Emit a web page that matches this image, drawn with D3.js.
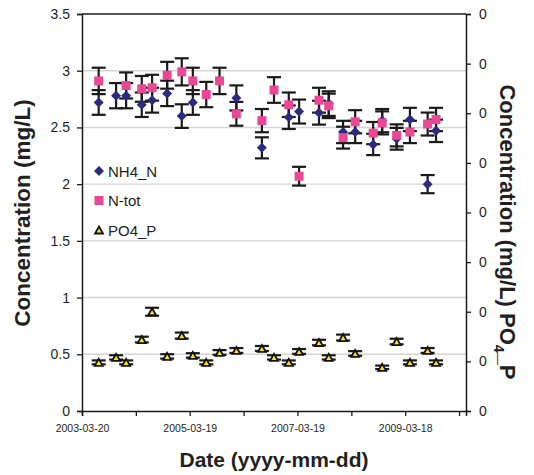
<!DOCTYPE html>
<html>
<head>
<meta charset="utf-8">
<script src="https://cdn.jsdelivr.net/npm/d3@7"></script>
<style>
  body { margin: 0; background: #fff; }
  text { font-family: "Liberation Sans", Arial, sans-serif; fill: #231f20; }
</style>
</head>
<body>
<svg id="chart" width="534" height="475"></svg>
<script>
// Sampling dates shared by the three series
const sampleDates = [
  "2003-07-11", "2003-11-06", "2004-01-13", "2004-04-28", "2004-07-07",
  "2004-10-17", "2005-01-24", "2005-04-09", "2005-07-09", "2005-10-07",
  "2006-01-29", "2006-07-21", "2006-10-11", "2007-01-19", "2007-03-30",
  "2007-08-12", "2007-10-17", "2008-01-22", "2008-04-13", "2008-08-13",
  "2008-10-13", "2009-01-19", "2009-04-19", "2009-08-17", "2009-10-13"
];

// NH4_N (mg/L), left axis
const nh4N = [
  2.72, 2.78, 2.78, 2.70, 2.74, 2.80, 2.60, 2.72, null, null,
  2.76, 2.32, null, 2.59, 2.64, 2.63, 2.71, 2.46, 2.46, 2.35,
  2.56, 2.40, 2.57, 2.00, 2.47
];

// N-tot (mg/L), left axis
const nTot = [
  2.91, null, 2.87, 2.84, 2.85, 2.96, 2.99, 2.91, 2.79, 2.91,
  2.62, 2.56, 2.83, 2.70, 2.07, 2.74, 2.69, 2.41, 2.55, 2.45,
  2.54, 2.43, 2.46, 2.53, 2.57
];

// PO4_P (mg/L), right axis
const po4P = [
  0.049, 0.054, 0.049, 0.072, 0.100, 0.055, 0.076, 0.056, 0.049, 0.059,
  0.061, 0.063, 0.054, 0.049, 0.060, 0.069, 0.054, 0.074, 0.058, null,
  0.044, 0.070, 0.049, 0.061, 0.049
];

// Axis ticks
const leftTicks = [0, 0.5, 1, 1.5, 2, 2.5, 3, 3.5];
const rightTicks = [0, 0.05, 0.1, 0.15, 0.2, 0.25, 0.3, 0.35, 0.4];
const dateTickLabels = ["2003-03-20", "2005-03-19", "2007-03-19", "2009-03-18"];
const dateAxisStart = "2003-03-20";
const dateAxisEnd = "2010-05-04";
const dateTickStepDays = 365;

// Relative size of the error bars
const errorFraction = 0.04;

const svg = d3.select("#chart");
const parse = d3.utcParse("%Y-%m-%d");
const fmt = d3.utcFormat("%Y-%m-%d");

const plot = { left: 82, right: 466, top: 14, bottom: 411 };

const x = d3.scaleUtc()
  .domain([parse(dateAxisStart), parse(dateAxisEnd)])
  .range([plot.left, plot.right]);
const yLeft = d3.scaleLinear().domain([0, 3.5]).range([plot.bottom, plot.top]);
const yRight = d3.scaleLinear().domain([0, 0.4]).range([plot.bottom, plot.top]);

const colors = { nh4: "#2d2a7e", ntot: "#ea4895", po4: "#ffe500", err: "#1a1a1a" };

// Horizontal gridlines
svg.append("g")
  .selectAll("line")
  .data(leftTicks.filter(t => t > 0 && t < 3.5))
  .join("line")
  .attr("x1", plot.left).attr("x2", plot.right)
  .attr("y1", d => yLeft(d)).attr("y2", d => yLeft(d))
  .attr("stroke", "#d6d6d6").attr("stroke-width", 1.4);

// Top border of the plot area
svg.append("line")
  .attr("x1", plot.left).attr("x2", plot.right)
  .attr("y1", plot.top).attr("y2", plot.top)
  .attr("stroke", "#1a1a1a").attr("stroke-width", 1.5);

// Left axis
const leftAxis = svg.append("g")
  .attr("transform", `translate(${plot.left},0)`)
  .call(d3.axisLeft(yLeft).tickValues(leftTicks).tickSize(5).tickPadding(7)
    .tickFormat(d3.format("~g")));
leftAxis.selectAll("text").style("font-size", "14px");

// Right axis
const rightAxis = svg.append("g")
  .attr("transform", `translate(${plot.right},0)`)
  .call(d3.axisRight(yRight).tickValues(rightTicks).tickSize(5).tickPadding(8)
    .tickFormat(d3.format(".0f")));
rightAxis.selectAll("text").style("font-size", "14px");

// Date axis: a tick every 365 days, labels on every other one
const dateTicks = d3.range(8).map(i => d3.utcDay.offset(parse(dateAxisStart), i * dateTickStepDays));
const bottomAxis = svg.append("g")
  .attr("transform", `translate(0,${plot.bottom})`)
  .call(d3.axisBottom(x).tickValues(dateTicks).tickSize(5).tickPadding(9)
    .tickFormat(d => dateTickLabels.includes(fmt(d)) ? fmt(d) : ""));
bottomAxis.selectAll("text").style("font-size", "10.5px");

[leftAxis, rightAxis, bottomAxis].forEach(g => {
  g.select(".domain").attr("stroke", "#1a1a1a").attr("stroke-width", 1.5);
  g.selectAll(".tick line").attr("stroke", "#1a1a1a").attr("stroke-width", 1.3);
  g.selectAll("text").attr("fill", "#231f20").style("font-family", '"Liberation Sans", Arial, sans-serif');
});

// Build point records per series
function records(values, scale) {
  return sampleDates
    .map((d, i) => ({ date: parse(d), v: values[i], y: scale }))
    .filter(r => r.v != null);
}
const nh4Pts = records(nh4N, yLeft);
const ntotPts = records(nTot, yLeft);
const po4Pts = records(po4P, yRight);

// Error bars (drawn beneath the markers)
const capHalf = 7;
const errG = svg.append("g")
  .attr("stroke", colors.err).attr("stroke-width", 2.2).attr("fill", "none");
[nh4Pts, ntotPts, po4Pts].forEach(pts => {
  pts.forEach(p => {
    const cx = x(p.date);
    const lo = p.y(p.v * (1 - errorFraction));
    const hi = p.y(p.v * (1 + errorFraction));
    errG.append("line").attr("x1", cx).attr("x2", cx).attr("y1", lo).attr("y2", hi);
    errG.append("line").attr("x1", cx - capHalf).attr("x2", cx + capHalf).attr("y1", lo).attr("y2", lo);
    errG.append("line").attr("x1", cx - capHalf).attr("x2", cx + capHalf).attr("y1", hi).attr("y2", hi);
  });
});

// Marker shapes
const diamond = (cx, cy, r) => `M${cx},${cy - r}L${cx + r},${cy}L${cx},${cy + r}L${cx - r},${cy}Z`;
const square = (cx, cy, s) => `M${cx - s / 2},${cy - s / 2}h${s}v${s}h${-s}Z`;
const triangle = (cx, cy, w, h) => `M${cx},${cy - h / 2}L${cx + w / 2},${cy + h / 2}L${cx - w / 2},${cy + h / 2}Z`;

svg.append("g").selectAll("path")
  .data(nh4Pts).join("path")
  .attr("d", p => diamond(x(p.date), p.y(p.v), 5))
  .attr("fill", colors.nh4);

svg.append("g").selectAll("path")
  .data(ntotPts).join("path")
  .attr("d", p => square(x(p.date), p.y(p.v), 9))
  .attr("fill", colors.ntot);

svg.append("g").selectAll("path")
  .data(po4Pts).join("path")
  .attr("d", p => triangle(x(p.date), p.y(p.v), 8, 7))
  .attr("fill", colors.po4)
  .attr("stroke", "#111").attr("stroke-width", 1.8).attr("stroke-linejoin", "miter");

// Legend
const legendItems = [
  { label: "NH4_N", shape: (cx, cy) => diamond(cx, cy, 5), fill: colors.nh4, stroke: "none" },
  { label: "N-tot", shape: (cx, cy) => square(cx, cy, 9), fill: colors.ntot, stroke: "none" },
  { label: "PO4_P", shape: (cx, cy) => triangle(cx, cy, 8, 7), fill: colors.po4, stroke: "#111" }
];
const legend = svg.append("g");
legendItems.forEach((item, i) => {
  const cy = 171 + i * 29.5;
  legend.append("path")
    .attr("d", item.shape(99, cy))
    .attr("fill", item.fill)
    .attr("stroke", item.stroke).attr("stroke-width", 1.8);
  legend.append("text")
    .attr("x", 108).attr("y", cy + 5.5)
    .style("font-size", "15px")
    .text(item.label);
});

// Axis titles
svg.append("text")
  .attr("transform", `translate(30,213) rotate(-90)`)
  .attr("text-anchor", "middle")
  .style("font-size", "22.5px").style("font-weight", "bold")
  .text("Concentration (mg/L)");

const rightTitle = svg.append("text")
  .attr("transform", `translate(500,232) rotate(90)`)
  .attr("text-anchor", "middle")
  .style("font-size", "22px").style("font-weight", "bold");
rightTitle.append("tspan").text("Concentration (mg/L) PO");
rightTitle.append("tspan").attr("dy", 6).style("font-size", "14px").text("4");
rightTitle.append("tspan").attr("dy", -6).text("_P");

svg.append("text")
  .attr("x", (plot.left + plot.right) / 2).attr("y", 467)
  .attr("text-anchor", "middle")
  .style("font-size", "21px").style("font-weight", "bold")
  .text("Date (yyyy-mm-dd)");
</script>
</body>
</html>
